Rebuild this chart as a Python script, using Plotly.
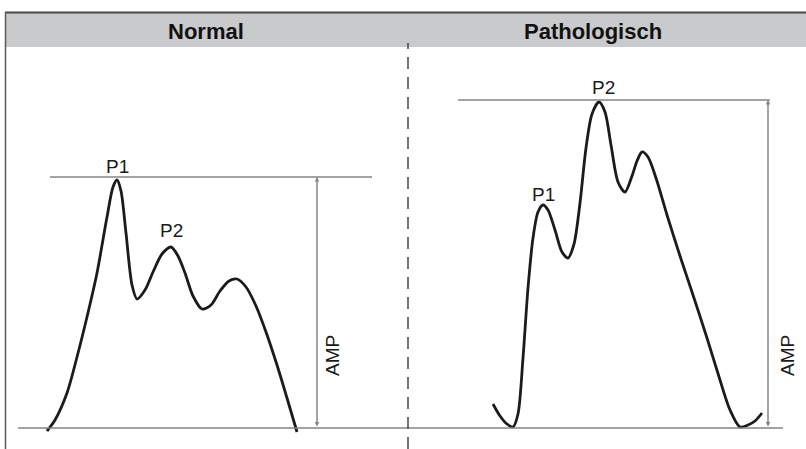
import plotly.graph_objects as go

# ---- data (time in arbitrary units, amplitude above baseline) ----
normal_t = [47, 55, 67, 77, 87, 97, 107, 113, 117, 121, 126, 132, 137, 145, 153, 162, 171, 178, 185, 193, 202, 211, 220, 229, 237, 246, 256, 266, 277, 287, 297]
normal_a = [-3, 8, 35, 71, 111, 155, 211, 241, 248, 237, 195, 143, 129, 138, 156, 174, 181, 172, 155, 132, 119, 123, 137, 147, 149, 141, 122, 96, 63, 30, -4]

patho_t = [493, 500, 507, 513, 518, 523, 528, 533, 538, 543, 548, 555, 562, 568, 574, 580, 586, 592, 599, 605, 611, 618, 625, 632, 637, 642, 648, 656, 667, 680, 693, 707, 720, 730, 740, 748, 755, 762]
patho_a = [24, 12, 4, 1, 14, 70, 140, 190, 216, 223, 218, 198, 176, 170, 184, 225, 280, 314, 326, 316, 283, 246, 236, 252, 267, 276, 271, 250, 213, 172, 133, 90, 48, 18, 1, 3, 7, 15]

amp_levels = [251, 328]           # AMP reference levels (Normal, Pathologisch)
panel_titles = ["Normal", "Pathologisch"]
peak_labels = ["P1", "P2"]

CURVE = "#1b1b1b"
GUIDE = "#858585"
FONT = "Liberation Sans, Arial"

fig = go.Figure()

# waveforms
for t, a in [(normal_t, normal_a), (patho_t, patho_a)]:
    fig.add_trace(go.Scatter(x=t, y=a, mode="lines",
                             line=dict(color=CURVE, width=2.8, shape="spline", smoothing=0.8),
                             hoverinfo="skip", showlegend=False))

# baseline
fig.add_trace(go.Scatter(x=[18, 783], y=[0, 0], mode="lines",
                         line=dict(color=GUIDE, width=1.5), hoverinfo="skip", showlegend=False))
# amplitude reference lines
fig.add_trace(go.Scatter(x=[50, 372], y=[amp_levels[0]] * 2, mode="lines",
                         line=dict(color=GUIDE, width=1.5), hoverinfo="skip", showlegend=False))
fig.add_trace(go.Scatter(x=[458, 770], y=[amp_levels[1]] * 2, mode="lines",
                         line=dict(color=GUIDE, width=1.5), hoverinfo="skip", showlegend=False))

annotations = []
# AMP double arrows + labels
for ax_x, lvl, tx in [(317, amp_levels[0], 332), (768, amp_levels[1], 787)]:
    annotations.append(dict(x=ax_x, y=lvl, ax=ax_x, ay=0, xref="x", yref="y", axref="x", ayref="y",
                            text="", showarrow=True, arrowhead=2, arrowsize=0.6, arrowwidth=1.5,
                            arrowside="end+start", arrowcolor=GUIDE, standoff=0, startstandoff=0))
    annotations.append(dict(x=tx, y=72, xref="x", yref="y", text="AMP", textangle=-90,
                            showarrow=False, font=dict(family=FONT, size=19, color="#1a1a1a")))

# peak labels
def peak_idx(t, a, lo, hi):
    best = None
    for i, (ti, ai) in enumerate(zip(t, a)):
        if lo <= ti <= hi and (best is None or ai > a[best]):
            best = i
    return best

i1 = peak_idx(normal_t, normal_a, 100, 130)
i2 = peak_idx(normal_t, normal_a, 160, 185)
j1 = peak_idx(patho_t, patho_a, 535, 550)
j2 = peak_idx(patho_t, patho_a, 590, 610)
for (t, a, i, lab, dx, dy) in [(normal_t, normal_a, i1, peak_labels[0], 0, 14),
                              (normal_t, normal_a, i2, peak_labels[1], 0, 17),
                              (patho_t, patho_a, j1, peak_labels[0], 0, 11),
                              (patho_t, patho_a, j2, peak_labels[1], 4, 15)]:
    annotations.append(dict(x=t[i] + dx, y=a[i] + dy, xref="x", yref="y", text=lab, showarrow=False,
                            xanchor="center", yanchor="middle",
                            font=dict(family=FONT, size=19, color="#1a1a1a")))

# panel titles
for tx, title in zip([206, 593], panel_titles):
    annotations.append(dict(x=tx, y=1 - 32 / 449, xref="x", yref="paper", text="<b>%s</b>" % title,
                            xanchor="center", yanchor="middle", showarrow=False,
                            font=dict(family=FONT, size=22, color="#111")))

shapes = [
    # header band
    dict(type="rect", xref="paper", yref="paper", x0=5 / 806, x1=1, y0=1 - 47 / 449, y1=1 - 12.5 / 449,
         fillcolor="#c9cacc", line=dict(width=0), layer="below"),
    # header top border
    dict(type="line", xref="paper", yref="paper", x0=5 / 806, x1=1, y0=1 - 12.5 / 449, y1=1 - 12.5 / 449,
         line=dict(color="#4a4a4a", width=2)),
    # left border
    dict(type="line", xref="paper", yref="paper", x0=5.5 / 806, x1=5.5 / 806, y0=0, y1=1 - 12.5 / 449,
         line=dict(color="#5a5a5a", width=1.5)),
    # dashed separator
    dict(type="line", xref="x", yref="paper", x0=408, x1=408, y0=0, y1=1 - 43 / 449,
         line=dict(color="#444", width=1.5, dash="12px,8px")),
]

fig.update_layout(
    width=806, height=449,
    margin=dict(l=0, r=0, t=0, b=0),
    paper_bgcolor="white", plot_bgcolor="white",
    xaxis=dict(range=[0, 806], visible=False, fixedrange=True),
    yaxis=dict(range=[-21, 428], visible=False, fixedrange=True),
    annotations=annotations, shapes=shapes, showlegend=False,
)

fig.write_html("out.html", config={"displayModeBar": False},
               post_script="document.body.style.margin='0px';document.body.style.overflow='hidden';")
